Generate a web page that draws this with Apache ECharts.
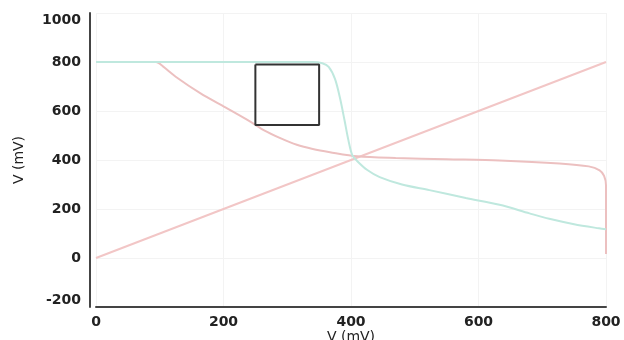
<!DOCTYPE html>
<html>
<head>
<meta charset="utf-8">
<script src="https://cdn.jsdelivr.net/npm/echarts@6/dist/echarts.min.js"></script>
<style>
  html, body { margin: 0; padding: 0; background: #fff; }
  #chart { width: 624px; height: 340px; }
</style>
</head>
<body>
<div id="chart"></div>
<script>
// values, in mV
var diagonalLine = [[0, 0], [800, 800]]
var tealCurve = [
  [0, 800], [340, 800], [355, 795], [365, 780], [375, 730], [383, 650],
  [390, 560], [396, 480], [402, 420], [410, 395], [425, 360], [445, 330],
  [480, 300], [523, 277], [580, 245], [633, 217], [680, 182], [711, 160],
  [750, 138], [789, 121], [800, 117]
]
var pinkCurve = [
  [0, 800], [94, 800], [105, 782], [125, 740], [164, 672], [203, 615],
  [242, 557], [263, 522], [290, 488], [315, 462], [340, 445], [367, 432],
  [410, 415], [470, 408], [550, 403], [633, 398], [727, 386], [773, 374],
  [790, 358], [797, 335], [800, 297], [800, 16]
]
var boxOutline = [[250, 790], [350, 790], [350, 543], [250, 543], [250, 790]]
var xTicks = [0, 200, 400, 600, 800]
var yTicks = [-200, 0, 200, 400, 600, 800, 1000]

var chart = echarts.init(document.getElementById('chart'))

var labelFont = {
  fontFamily: 'DejaVu Sans',
  fontWeight: 'bold',
  fontSize: 14,
  color: '#222'
}

chart.setOption({
  animation: false,
  backgroundColor: '#fff',
  grid: { left: 96, right: 18, top: 13, bottom: 33, outerBoundsMode: 'none', containLabel: false },
  xAxis: {
    type: 'value',
    min: xTicks[0],
    max: xTicks[xTicks.length - 1],
    interval: 200,
    name: 'V (mV)',
    nameLocation: 'middle',
    nameGap: 30,
    nameMoveOverlap: false,
    nameTextStyle: { fontFamily: 'DejaVu Sans', fontSize: 14, color: '#222', verticalAlign: 'middle' },
    axisLine: { onZero: false, lineStyle: { color: '#444', width: 2 } },
    axisTick: { show: false },
    axisLabel: Object.assign({ margin: 8 }, labelFont),
    splitLine: { lineStyle: { color: '#f3f3f3' } }
  },
  yAxis: {
    type: 'value',
    min: yTicks[0],
    max: yTicks[yTicks.length - 1],
    interval: 200,
    offset: 6,
    name: 'V (mV)',
    nameLocation: 'middle',
    nameGap: 64,
    nameMoveOverlap: false,
    nameTextStyle: { fontFamily: 'DejaVu Sans', fontSize: 14, color: '#222' },
    axisLine: { show: true, onZero: false, lineStyle: { color: '#444', width: 2 } },
    axisTick: { show: false },
    axisLabel: Object.assign({
      margin: 9,
      formatter: function (v) {
        if (v === 1000) return '{t|' + v + '}'
        if (v === -200) return '{b|' + v + '}'
        return v
      },
      rich: {
        t: Object.assign({ padding: [14, 0, 0, 0] }, labelFont),
        b: Object.assign({ padding: [0, 0, 14, 0] }, labelFont)
      }
    }, labelFont),
    splitLine: { lineStyle: { color: '#f3f3f3' } }
  },
  series: [
    {
      type: 'line',
      data: diagonalLine,
      showSymbol: false,
      lineStyle: { color: '#f2c6c6', width: 2 }
    },
    {
      type: 'line',
      data: pinkCurve,
      showSymbol: false,
      smooth: 0.3,
      lineStyle: { color: '#ecc0c0', width: 2 }
    },
    {
      type: 'line',
      data: tealCurve,
      showSymbol: false,
      smooth: 0.3,
      lineStyle: { color: '#bfe8de', width: 2 }
    },
    {
      type: 'line',
      data: boxOutline,
      showSymbol: false,
      lineStyle: { color: '#333', width: 2 }
    }
  ]
})
</script>
</body>
</html>
